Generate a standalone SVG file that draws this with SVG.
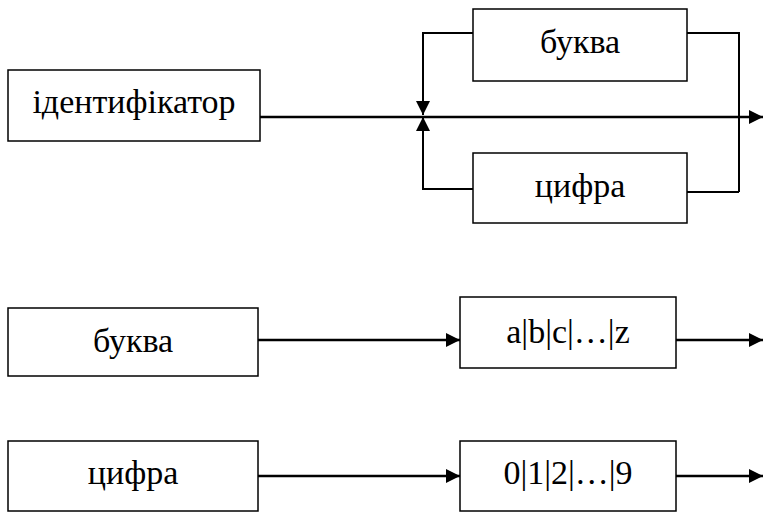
<svg xmlns="http://www.w3.org/2000/svg" width="763" height="513" viewBox="0 0 763 513">
  <style>
    .box { fill: #fff; stroke: #000; stroke-width: 1.5; }
    .lbl { font-family: "Liberation Serif", "Times New Roman", serif; font-size: 34px; fill: #000; text-anchor: middle; }
    .wire { fill: none; stroke: #000; stroke-width: 2.6; }
    .loop { fill: none; stroke: #000; stroke-width: 2; }
  </style>
  <defs>
    <marker id="arrow" viewBox="0 0 10 10" refX="10" refY="5" markerWidth="14" markerHeight="14" markerUnits="userSpaceOnUse" orient="auto">
      <path d="M0,0 L10,5 L0,10 Z" fill="#000"/>
    </marker>
  </defs>

  <g id="connectors">
    <!-- main path of identifier -->
    <line class="wire" x1="260" y1="117" x2="763" y2="117" marker-end="url(#arrow)"/>
    <!-- loop back through letter -->
    <polyline class="loop" points="739,192 739,33 687,33"/>
    <polyline class="loop" points="473,33 423,33 423,115" marker-end="url(#arrow)"/>
    <!-- loop back through digit -->
    <polyline class="loop" points="687,192 739,192"/>
    <polyline class="loop" points="473,189 423,189 423,117" marker-end="url(#arrow)"/>
    <!-- letter definition -->
    <line class="wire" x1="258" y1="340" x2="460" y2="340" marker-end="url(#arrow)"/>
    <line class="wire" x1="676" y1="340" x2="763" y2="340" marker-end="url(#arrow)"/>
    <!-- digit definition -->
    <line class="wire" x1="258" y1="476" x2="460" y2="476" marker-end="url(#arrow)"/>
    <line class="wire" x1="676" y1="476" x2="763" y2="476" marker-end="url(#arrow)"/>
  </g>

  <g id="identifier">
    <rect class="box" x="8" y="70" width="252" height="71"/>
    <text class="lbl" x="134" y="113">ідентифікатор</text>
  </g>
  <g id="loop-letter">
    <rect class="box" x="473" y="9" width="214" height="72"/>
    <text class="lbl" x="580" y="53">буква</text>
  </g>
  <g id="loop-digit">
    <rect class="box" x="473" y="153" width="214" height="70"/>
    <text class="lbl" x="580" y="197">цифра</text>
  </g>
  <g id="letter">
    <rect class="box" x="8" y="308" width="250" height="68"/>
    <text class="lbl" x="133" y="352">буква</text>
  </g>
  <g id="letter-values">
    <rect class="box" x="460" y="297" width="216" height="71"/>
    <text class="lbl" x="568" y="343">a|b|c|…|z</text>
  </g>
  <g id="digit">
    <rect class="box" x="8" y="441" width="250" height="70"/>
    <text class="lbl" x="133" y="484">цифра</text>
  </g>
  <g id="digit-values">
    <rect class="box" x="460" y="441" width="216" height="70"/>
    <text class="lbl" x="568" y="484">0|1|2|…|9</text>
  </g>
</svg>
